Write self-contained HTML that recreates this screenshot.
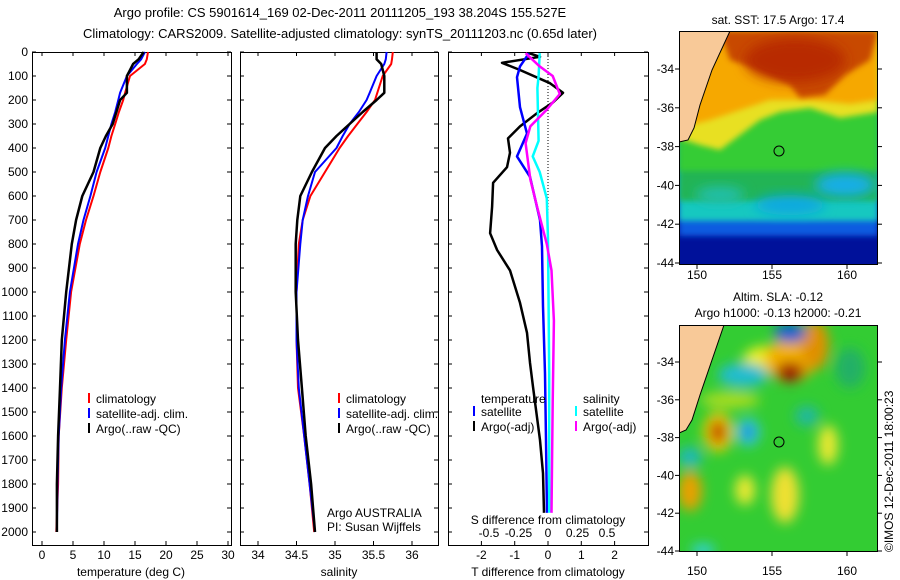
<!DOCTYPE html>
<html><head><meta charset="utf-8"><style>
body{margin:0;background:#fff;}
svg{display:block;font-family:"Liberation Sans",sans-serif;}
</style></head><body>
<svg id="c" width="900" height="580" viewBox="0 0 900 580">
<defs>
<clipPath id="clipT"><rect x="679" y="31" width="199" height="234"/></clipPath>
<clipPath id="clipB"><rect x="679" y="325" width="199" height="227"/></clipPath>
<filter id="bl" x="-50%" y="-50%" width="200%" height="200%"><feGaussianBlur stdDeviation="6"/></filter>
<filter id="bl2" x="-50%" y="-50%" width="200%" height="200%"><feGaussianBlur stdDeviation="3"/></filter>
</defs>
<text x="340" y="17" font-size="13" text-anchor="middle">Argo profile: CS 5901614_169 02-Dec-2011 20111205_193 38.204S 155.527E</text>
<text x="340" y="38" font-size="13" text-anchor="middle">Climatology: CARS2009. Satellite-adjusted climatology: synTS_20111203.nc (0.65d later)</text>
<g id="panels"></g>

<!-- SST map -->
<g>
<g clip-path="url(#clipT)">
<rect x="679" y="31" width="199" height="234" fill="#00119a"/>
<rect x="679" y="31" width="199" height="205" fill="#0a5ce0" filter="url(#bl2)"/>
<rect x="679" y="31" width="199" height="190" fill="#15c8c0" filter="url(#bl2)"/>
<rect x="679" y="31" width="199" height="170" fill="#22b455" filter="url(#bl2)"/>
<rect x="679" y="31" width="199" height="140" fill="#35cc35" filter="url(#bl2)"/>
<polygon points="679,31 878,31 878,112 840,118 810,108 780,112 760,120 740,135 720,150 700,145 679,138" fill="#e8e020" filter="url(#bl2)"/>
<polygon points="679,31 878,31 878,100 850,104 810,100 770,100 740,110 710,120 690,125 679,120" fill="#f6a800" filter="url(#bl2)"/>
<polygon points="720,31 878,31 870,60 845,75 825,95 800,98 790,85 760,70 730,60" fill="#c84800" filter="url(#bl2)"/>
<ellipse cx="795" cy="60" rx="50" ry="22" fill="#b82a00" filter="url(#bl)"/>
<ellipse cx="845" cy="185" rx="30" ry="12" fill="#16aee8" filter="url(#bl)"/>
<ellipse cx="790" cy="205" rx="35" ry="10" fill="#10a8e0" filter="url(#bl)"/>
<ellipse cx="720" cy="195" rx="25" ry="8" fill="#20c0b0" filter="url(#bl)"/>
<polygon points="679,31 730,31 712,70 700,105 694,128 688,140 679,142" fill="#f8c998"/>
<polyline points="730,31 712,70 700,105 694,128 688,140 679,142" fill="none" stroke="#000" stroke-width="1"/>
<circle cx="779" cy="151" r="5" fill="none" stroke="#000"/>
</g>
<rect x="679.5" y="31.5" width="198" height="233" fill="none" stroke="#000"/>
<text x="778" y="24" font-size="12" text-anchor="middle">sat. SST: 17.5 Argo: 17.4</text>
</g>

<!-- SLA map -->
<g>
<g clip-path="url(#clipB)">
<rect x="679" y="325" width="199" height="227" fill="#33cc33"/>
<g filter="url(#bl)">
<ellipse cx="765" cy="360" rx="22" ry="14" fill="#eeee22"/>
<ellipse cx="790" cy="360" rx="25" ry="22" fill="#f2b000"/>
<ellipse cx="790" cy="372" rx="14" ry="10" fill="#a01800"/>
<ellipse cx="815" cy="345" rx="14" ry="25" fill="#e09000"/>
<ellipse cx="790" cy="333" rx="16" ry="10" fill="#1060d0"/>
<ellipse cx="743" cy="375" rx="25" ry="12" fill="#20bcd0"/>
<ellipse cx="718" cy="432" rx="15" ry="20" fill="#eecc11"/>
<ellipse cx="718" cy="432" rx="8" ry="12" fill="#c04000"/>
<ellipse cx="748" cy="432" rx="12" ry="14" fill="#30c8e0"/>
<ellipse cx="748" cy="432" rx="5" ry="6" fill="#1060d0"/>
<ellipse cx="690" cy="491" rx="12" ry="20" fill="#e8a000"/>
<ellipse cx="690" cy="457" rx="12" ry="10" fill="#20b8b8"/>
<ellipse cx="807" cy="416" rx="12" ry="10" fill="#20b8a0"/>
<ellipse cx="828" cy="445" rx="10" ry="20" fill="#e8e830"/>
<ellipse cx="785" cy="495" rx="14" ry="28" fill="#eee030"/>
<ellipse cx="745" cy="490" rx="10" ry="15" fill="#e8e830"/>
<ellipse cx="850" cy="368" rx="15" ry="20" fill="#22b066"/>
<ellipse cx="703" cy="550" rx="12" ry="6" fill="#30d0e0"/>
<ellipse cx="730" cy="400" rx="30" ry="8" fill="#aadd22"/>
</g>
<polygon points="679,325 724,325 712,360 700,395 692,420 686,430 679,433" fill="#f8c998"/>
<polyline points="724,325 712,360 700,395 692,420 686,430 679,433" fill="none" stroke="#000"/>
<circle cx="779" cy="442" r="5" fill="none" stroke="#000"/>
</g>
<rect x="679.5" y="325.5" width="198" height="226" fill="none" stroke="#000"/>
<text x="778" y="301" font-size="12" text-anchor="middle">Altim. SLA: -0.12</text>
<text x="778" y="317" font-size="12" text-anchor="middle">Argo h1000: -0.13 h2000: -0.21</text>
</g>
<text transform="translate(893,552) rotate(-90)" font-size="12">©IMOS 12-Dec-2011 18:00:23</text>
</svg>
<script>
// ---- data ----
const depthTicks=[0,100,200,300,400,500,600,700,800,900,1000,1100,1200,1300,1400,1500,1600,1700,1800,1900,2000];
const tempTicks=[0,5,10,15,20,25,30];
const salTicks=[34,34.5,35,35.5,36];
const tdTicks=[-2,-1,0,1,2];
const sdTicks=[-0.5,-0.25,0,0.25,0.5];
const sdTickLabels=["-0.5","-0.25","0","0.25","0.5"];

const profDepth=[0,30,50,100,170,200,250,300,350,400,500,600,700,800,1000,1200,1400,1600,1800,2000];
const tempArgo=[16.4,15.6,14.7,13.7,13.7,12.6,12.0,11.4,10.3,9.4,8.3,6.5,5.5,4.8,3.9,3.2,2.9,2.6,2.4,2.4];
const tempClim=[17.1,16.9,16.6,14.2,13.4,13.1,12.4,11.8,11.2,10.7,9.4,8.3,7.1,6.1,4.7,3.9,3.2,2.7,2.6,2.3];
const tempSat=[16.6,16.0,15.3,13.7,12.6,12.3,11.8,11.2,10.7,10.2,8.8,7.8,6.7,5.8,4.5,3.7,3.1,2.7,2.5,2.4];
const salArgo=[35.54,35.54,35.6,35.64,35.64,35.54,35.36,35.19,35.02,34.87,34.7,34.55,34.51,34.49,34.49,34.52,34.57,34.62,34.69,34.74];
const salClim=[35.75,35.74,35.73,35.62,35.55,35.52,35.41,35.29,35.17,35.06,34.87,34.68,34.58,34.53,34.5,34.5,34.52,34.6,34.67,34.73];
const salSat=[35.67,35.66,35.64,35.54,35.45,35.41,35.31,35.19,35.1,35.02,34.74,34.65,34.58,34.55,34.5,34.5,34.53,34.6,34.67,34.74];

const tdArgoDepth=[5,20,45,75,130,170,210,255,310,360,420,480,545,645,755,825,910,1045,1170,1295,1395,1617,1755,1920];
const tdArgo=[-0.57,-0.24,-1.38,-0.84,0.06,0.45,0.15,-0.33,-0.84,-1.2,-1.14,-1.23,-1.65,-1.68,-1.74,-1.53,-1.14,-0.84,-0.63,-0.54,-0.45,-0.24,-0.15,-0.12];
const tdSatDepth=[5,60,105,230,340,435,520,700,810,1060,1340,1617,1920];
const tdSat=[-0.57,-0.84,-0.93,-0.84,-0.63,-0.93,-0.54,-0.24,-0.18,-0.15,-0.09,-0.06,-0.03];
const sdSatDepth=[5,100,150,370,435,500,610,780,1340,1920];
const sdSat=[-0.07,-0.08,-0.09,-0.08,-0.13,-0.07,-0.01,0,0.01,0.01];
const sdArgoDepth=[5,60,100,175,240,310,380,530,650,800,910,1120,1460,1920];
const sdArgo=[-0.19,-0.07,0.04,0.1,-0.01,-0.15,-0.19,-0.15,-0.09,-0.01,0.03,0.05,0.04,0.03];

// ---- axes ----
const Y=d=>52+d*0.24;
const xT=v=>42+v*6.2;
const xS=v=>258+(v-34)*77;
const xTD=v=>548+v*33.3;
const xSD=v=>548+v*118;
const NS='http://www.w3.org/2000/svg';
const root=document.getElementById('panels');
function mk(tag,attrs,parent){const e=document.createElementNS(NS,tag);for(const k in attrs)e.setAttribute(k,attrs[k]);(parent||root).appendChild(e);return e;}
function txt(x,y,s,anchor,parent,size){const t=mk('text',{x:x,y:y,'font-size':size||12,'text-anchor':anchor||'start'},parent);t.textContent=s;return t;}

const panels=[{x0:32,x1:231,name:'temperature-panel'},{x0:240,x1:438,name:'salinity-panel'},{x0:448,x1:648,name:'difference-panel'}];
panels.forEach(p=>{
  const g=mk('g',{});
  
  
  p.g=g;
  const r=mk('rect',{x:p.x0+0.5,y:52.5,width:p.x1-p.x0,height:493,fill:'none',stroke:'#000'},g);
  
  
});
const ya=mk('g',{});


depthTicks.forEach(d=>{
  const y=Y(d);
  txt(28,y+4,String(d),'end',ya);
  panels.forEach((p,i)=>{
    mk('line',{x1:p.x0,x2:p.x0+4,y1:y,y2:y,stroke:'#000'},ya);
    mk('line',{x1:p.x1-4,x2:p.x1,y1:y,y2:y,stroke:'#000'},ya);
  });
});
function xaxis(ticks,fx,labels,g,ylab){
  ticks.forEach((v,i)=>{const x=fx(v);mk('line',{x1:x,x2:x,y1:541,y2:545,stroke:'#000'},g);mk('line',{x1:x,x2:x,y1:52,y2:56,stroke:'#000'},g);txt(x,ylab,labels?labels[i]:String(v),'middle',g);});
}
xaxis(tempTicks,xT,null,panels[0].g,559);
txt(131,576,'temperature (deg C)','middle',panels[0].g);
xaxis(salTicks,xS,null,panels[1].g,559);
txt(339,576,'salinity','middle',panels[1].g);
xaxis(tdTicks,xTD,null,panels[2].g,559);
sdTicks.forEach((v,i)=>txt(xSD(v),537,sdTickLabels[i],'middle',panels[2].g));
txt(548,524,'S difference from climatology','middle',panels[2].g);
txt(548,576,'T difference from climatology','middle',panels[2].g);
mk('line',{x1:548,x2:548,y1:53,y2:250,stroke:'#000','stroke-dasharray':'1,2'},panels[2].g);

function line(ds,vs,fx,color,name,w,g){
  const pts=ds.map((d,i)=>fx(vs[i]).toFixed(1)+','+Y(d).toFixed(1)).join(' ');
  const pl=mk('polyline',{points:pts,fill:'none',stroke:color,'stroke-width':w||2,'stroke-linejoin':'round'},g);
  
  
}
line(profDepth,tempClim,xT,'#f00','temp-climatology-line',2,panels[0].g);
line(profDepth,tempSat,xT,'#00f','temp-satellite-line',2,panels[0].g);
line(profDepth,tempArgo,xT,'#000','temp-argo-line',2.5,panels[0].g);
line(profDepth,salClim,xS,'#f00','sal-climatology-line',2,panels[1].g);
line(profDepth,salSat,xS,'#00f','sal-satellite-line',2,panels[1].g);
line(profDepth,salArgo,xS,'#000','sal-argo-line',2.5,panels[1].g);
line(tdArgoDepth,tdArgo,xTD,'#000','tdiff-argo-line',2.5,panels[2].g);
line(tdSatDepth,tdSat,xTD,'#00f','tdiff-satellite-line',2.5,panels[2].g);
line(sdSatDepth,sdSat,xSD,'#0ff','sdiff-satellite-line',2.5,panels[2].g);
line(sdArgoDepth,sdArgo,xSD,'#f0f','sdiff-argo-line',2.5,panels[2].g);

function legend(x,y,color,label,g){
  const lg=mk('g',{},g);
  
  
  mk('line',{x1:x,x2:x,y1:y-10,y2:y,stroke:color,'stroke-width':2},lg);
  txt(x+7,y,label,'start',lg);
}
legend(89,403,'#f00','climatology',panels[0].g);
legend(89,418,'#00f','satellite-adj. clim.',panels[0].g);
legend(89,433,'#000','Argo(..raw -QC)',panels[0].g);
legend(339,403,'#f00','climatology',panels[1].g);
legend(339,418,'#00f','satellite-adj. clim.',panels[1].g);
legend(339,433,'#000','Argo(..raw -QC)',panels[1].g);
txt(481,403,'temperature','start',panels[2].g);
txt(583,403,'salinity','start',panels[2].g);
legend(474,416,'#00f','satellite',panels[2].g);
legend(474,431,'#000','Argo(-adj)',panels[2].g);
legend(576,416,'#0ff','satellite',panels[2].g);
legend(576,431,'#f0f','Argo(-adj)',panels[2].g);
txt(327,517,'Argo AUSTRALIA','start',panels[1].g);
txt(327,531,'PI: Susan Wijffels','start',panels[1].g);

// map axes
const lonTicks=[150,155,160];
const latTicks=[-34,-36,-38,-40,-42,-44];
const xLon=v=>697+(v-150)*15;
const yLatT=v=>69+(-34-v)*19.4;
const yLatB=v=>362+(-34-v)*18.9;
[[yLatT,265,275],[yLatB,552,571]].forEach(([fy,yb,yl])=>{
  const g=mk('g',{});
  
  
  lonTicks.forEach(v=>{const x=xLon(v);mk('line',{x1:x,x2:x,y1:yb,y2:yb+4,stroke:'#000'},g);txt(x,yl+4,String(v),'middle',g);});
  latTicks.forEach(v=>{const y=fy(v);mk('line',{x1:675,x2:679,y1:y,y2:y,stroke:'#000'},g);mk('line',{x1:878,x2:882,y1:y,y2:y,stroke:'#000'},g);txt(674,y+4,String(v),'end',g);});
});
</script>
</body></html>
